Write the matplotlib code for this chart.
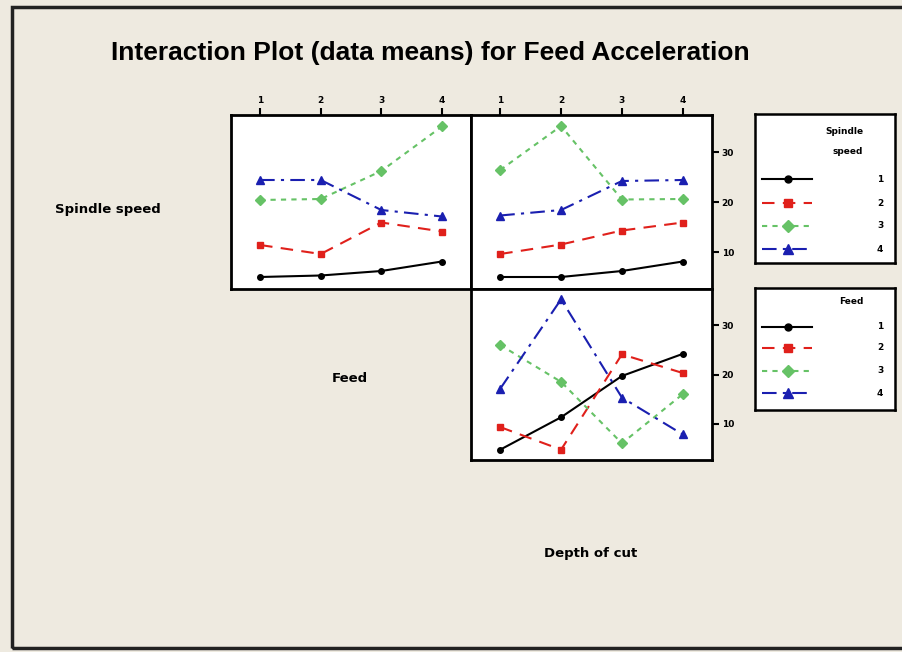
import matplotlib.pyplot as plt
from matplotlib.lines import Line2D
from matplotlib.patches import Rectangle

# Factor levels (x axis of each panel)
levels = [1, 2, 3, 4]
level_labels = ['1', '2', '3', '4']

# Data means
# rows = Spindle speed 1..4, x = Feed 1..4
spindle_vs_feed = [
    [5.0, 5.3, 6.2, 8.1],
    [11.4, 9.6, 15.9, 14.1],
    [20.4, 20.6, 26.2, 35.1],
    [24.4, 24.4, 18.4, 17.1],
]
# rows = Spindle speed 1..4, x = Depth of cut 1..4
spindle_vs_depth = [
    [5.0, 5.0, 6.2, 8.1],
    [9.6, 11.5, 14.3, 15.9],
    [26.4, 35.2, 20.5, 20.6],
    [17.3, 18.4, 24.2, 24.4],
]
# rows = Feed 1..4, x = Depth of cut 1..4
feed_vs_depth = [
    [4.7, 11.3, 19.7, 24.2],
    [9.3, 4.7, 24.1, 20.3],
    [26.0, 18.5, 6.0, 16.0],
    [17.1, 35.3, 15.3, 7.8],
]
y_ticks = [10, 20, 30]

# Minitab-like styles for the 4 trace levels
colors = ['black', '#e0201b', '#66c266', '#1a1fb0']
markers = ['o', 's', 'D', '^']
msizes = [4, 5, 5, 6]
dashes = [None, (6, 4), (2.5, 2.5), (7, 3, 1.5, 3)]

bg = '#eeeae0'
W, H = 903, 652

fig = plt.figure(figsize=(W / 100, H / 100), dpi=100, facecolor=bg)


def fig_rect(x0, y0, x1, y1):
    # pixel box (top-left origin) -> figure fraction rect
    return [x0 / W, 1 - y1 / H, (x1 - x0) / W, (y1 - y0) / H]


def draw_panel(ax, data):
    for i, vals in enumerate(data):
        ln, = ax.plot(levels, vals, color=colors[i], marker=markers[i],
                      markersize=msizes[i], lw=1.5, markeredgecolor=colors[i])
        if dashes[i] is not None:
            ln.set_dashes(dashes[i])
    ax.set_xlim(0.52, 4.48)
    ax.set_ylim(2.6, 37.4)
    ax.set_facecolor('white')
    for s in ax.spines.values():
        s.set_linewidth(2)
    ax.tick_params(direction='out', length=5, width=1.5, labelsize=6.5, pad=2)


ax1 = fig.add_axes(fig_rect(231, 115, 471, 289))
ax2 = fig.add_axes(fig_rect(471, 115, 712, 289))
ax3 = fig.add_axes(fig_rect(471, 289, 712, 460))

draw_panel(ax1, spindle_vs_feed)
draw_panel(ax2, spindle_vs_depth)
draw_panel(ax3, feed_vs_depth)

for ax in (ax1, ax2):
    ax.xaxis.tick_top()
    ax.set_xticks(levels)
    ax.set_xticklabels(level_labels, fontweight='bold')
ax3.set_xticks([])

ax1.set_yticks([])
for ax in (ax2, ax3):
    ax.yaxis.tick_right()
    ax.set_yticks(y_ticks)
    ax.set_yticklabels([str(t) for t in y_ticks], fontweight='bold')

# Diagonal factor names
lab_kw = dict(fontsize=9.5, fontweight='bold', ha='center', va='center')
fig.text(108 / W, 1 - 209 / H, 'Spindle speed', **lab_kw)
fig.text(350 / W, 1 - 379 / H, 'Feed', **lab_kw)
fig.text(591 / W, 1 - 553 / H, 'Depth of cut', **lab_kw)

# Title
fig.text(430 / W, 1 - 53 / H, 'Interaction Plot (data means) for Feed Acceleration',
         fontsize=19, fontweight='bold', ha='center', va='center',
         family='Liberation Sans')


# Legends drawn as small boxes on the right
def draw_legend(box, title_lines, row_y):
    lax = fig.add_axes(fig_rect(*box))
    lax.set_xlim(box[0], box[2])
    lax.set_ylim(box[3], box[1])
    lax.set_xticks([])
    lax.set_yticks([])
    lax.set_facecolor('white')
    for s in lax.spines.values():
        s.set_linewidth(1.8)
    for txt, ty in title_lines:
        lax.text(863, ty, txt, fontsize=6.5, fontweight='bold', ha='right', va='center')
    for i, yy in enumerate(row_y):
        ln = Line2D([762, 812], [yy, yy], color=colors[i], lw=1.5)
        if dashes[i] is not None:
            ln.set_dashes(dashes[i])
        lax.add_line(ln)
        lax.plot([788], [yy], marker=markers[i], color=colors[i], markersize=msizes[i] + 1)
        lax.text(880, yy, level_labels[i], fontsize=6.5, fontweight='bold',
                 ha='center', va='center')


draw_legend((755, 114, 895, 263), [('Spindle', 131), ('speed', 152)],
            [179, 203, 226, 249])
draw_legend((755, 288, 895, 410), [('Feed', 302)], [327, 348, 371, 393])

# Outer frame (right side runs off the image)
fig.patches.append(Rectangle((12 / W, 4 / H), 1.2, 1 - 11 / H,
                             transform=fig.transFigure, fill=False,
                             edgecolor='#222222', linewidth=2.5))

fig.savefig('out.png', dpi=100, facecolor=bg)
